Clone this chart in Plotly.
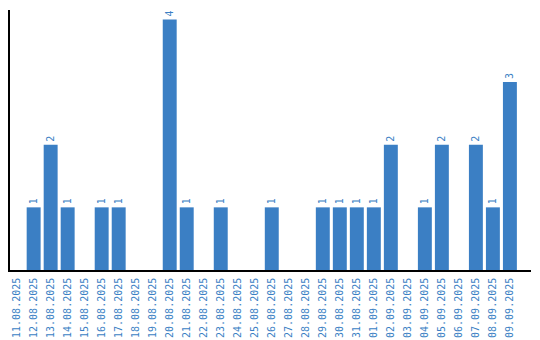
import plotly.graph_objects as go

dates = ["11.08.2025", "12.08.2025", "13.08.2025", "14.08.2025", "15.08.2025",
         "16.08.2025", "17.08.2025", "18.08.2025", "19.08.2025", "20.08.2025",
         "21.08.2025", "22.08.2025", "23.08.2025", "24.08.2025", "25.08.2025",
         "26.08.2025", "27.08.2025", "28.08.2025", "29.08.2025", "30.08.2025",
         "31.08.2025", "01.09.2025", "02.09.2025", "03.09.2025", "04.09.2025",
         "05.09.2025", "06.09.2025", "07.09.2025", "08.09.2025", "09.09.2025"]
counts = [0, 1, 2, 1, 0, 1, 1, 0, 0, 4,
          1, 0, 1, 0, 0, 1, 0, 0, 1, 1,
          1, 1, 2, 0, 1, 2, 0, 2, 1, 3]

BLUE = "#3b7fc4"
FONT = "DejaVu Sans Mono"

labels = [str(v) if v else "" for v in counts]

fig = go.Figure(go.Bar(
    x=dates, y=counts, text=labels,
    textposition="outside", textangle=-90, constraintext="none",
    cliponaxis=False,
    marker=dict(color=BLUE, line=dict(width=0)),
    textfont=dict(family=FONT, size=10, color=BLUE),
    outsidetextfont=dict(family=FONT, size=10, color=BLUE),
    hoverinfo="skip",
))

fig.update_layout(
    width=540, height=340,
    margin=dict(l=10, r=9, t=10, b=70, autoexpand=False),
    paper_bgcolor="white", plot_bgcolor="white",
    bargap=0.18,
    showlegend=False,
    font=dict(family=FONT, size=10, color=BLUE),
)
fig.update_xaxes(
    type="category", range=[-0.39, 30.24], automargin=False,
    showline=True, linecolor="black", linewidth=1.5,
    showgrid=False, zeroline=False, ticks="", ticklabelstandoff=2,
    tickangle=-90, tickfont=dict(family=FONT, size=10, color=BLUE),
)
fig.update_yaxes(
    range=[0, 4.15], showline=True, linecolor="black", linewidth=1.5,
    automargin=False,
    showgrid=False, zeroline=False, showticklabels=False, ticks="",
)

fig.write_html("out.html")
